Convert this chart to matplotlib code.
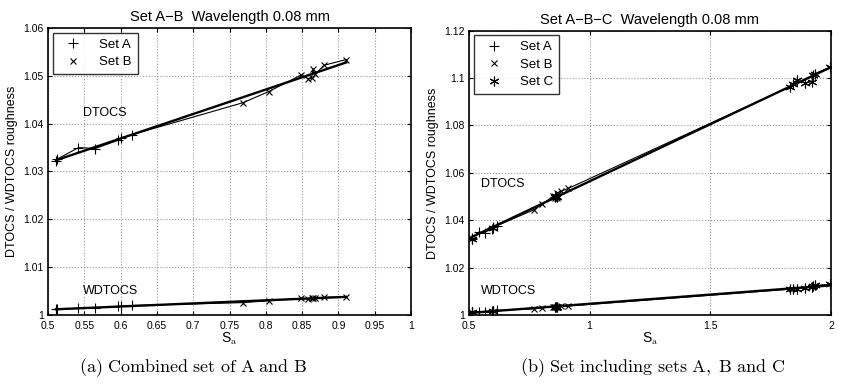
import numpy as np
import matplotlib
matplotlib.use("Agg")
import matplotlib.pyplot as plt
from matplotlib.ticker import FixedLocator, FormatStrFormatter

plt.rcParams['font.family'] = ['Liberation Sans', 'DejaVu Sans']
plt.rcParams['mathtext.fontset'] = 'cm'

# Set A
a_sa = [0.511, 0.513, 0.542, 0.565, 0.596, 0.600, 0.616]
a_dtocs = [1.0321, 1.0326, 1.0350, 1.0348, 1.0365, 1.0370, 1.0377]
a_wdtocs = [1.0012, 1.0012, 1.0014, 1.0015, 1.0018, 1.0019, 1.0020]

# Set B
b_sa = [0.769, 0.804, 0.849, 0.858, 0.863, 0.865, 0.868, 0.880, 0.911]
b_dtocs = [1.0444, 1.0467, 1.0502, 1.0494, 1.0495, 1.0514, 1.0503, 1.0522, 1.0534]
b_wdtocs = [1.0026, 1.0030, 1.0035, 1.0034, 1.0035, 1.0035, 1.0036, 1.0037, 1.0038]

# Set C
c_sa = [0.512, 0.601, 0.855, 0.862, 0.867, 1.830, 1.844, 1.858, 1.893, 1.921, 1.925, 1.934, 1.997]
c_dtocs = [1.0323, 1.0367, 1.0497, 1.0502, 1.0499, 1.0963, 1.0977, 1.0991, 1.0980,
           1.0984, 1.1012, 1.1019, 1.1046]
c_wdtocs = [1.0012, 1.0019, 1.0035, 1.0035, 1.0036, 1.0109, 1.0111, 1.0112, 1.0114,
            1.0120, 1.0122, 1.0125, 1.0130]

STAR = (6, 2, 0)  # matlab style asterisk


def draw_curve(ax, xs, ys, x_lo, x_hi):
    xs = np.asarray(xs)
    ys = np.asarray(ys)
    order = np.argsort(xs)
    ax.plot(xs[order], ys[order], color='black', lw=0.8, zorder=2)
    k, b = np.polyfit(xs, ys, 1)
    xx = np.array([x_lo, x_hi])
    ax.plot(xx, k * xx + b, color='black', lw=1.7, zorder=2)


def style_axes(ax, xlim, ylim, xticks, yticks):
    ax.set_xlim(*xlim)
    ax.set_ylim(*ylim)
    ax.xaxis.set_major_locator(FixedLocator(xticks))
    ax.yaxis.set_major_locator(FixedLocator(yticks))
    ax.xaxis.set_major_formatter(FormatStrFormatter('%g'))
    ax.yaxis.set_major_formatter(FormatStrFormatter('%g'))
    ax.tick_params(direction='in', top=True, right=True, labelsize=7.5, length=3, width=0.8)
    ax.tick_params(axis='x', pad=4)
    ax.tick_params(axis='y', pad=3)
    ax.grid(True, linestyle=':', color='#999999', lw=0.8)
    for s in ax.spines.values():
        s.set_linewidth(1.2)
    ax.set_xlabel('S$_{\\mathrm{a}}$', fontsize=10, labelpad=0)
    ax.set_ylabel('DTOCS / WDTOCS roughness', fontsize=9, labelpad=4)


def add_legend(ax):
    leg = ax.legend(loc='upper left', fontsize=9.5, frameon=True, fancybox=False,
                    edgecolor='black', handlelength=2.2, handletextpad=0.9,
                    borderpad=0.45, borderaxespad=0.35, labelspacing=0.4)
    leg.get_frame().set_linewidth(1.0)


fig = plt.figure(figsize=(8.51, 3.88), dpi=100)
ax1 = fig.add_axes([0.0564, 0.188, 0.4266, 0.740])
ax2 = fig.add_axes([0.551, 0.188, 0.4254, 0.733])

mk = dict(color='black', ls='none', mew=0.8, zorder=3)

# (a) sets A and B
all_sa = a_sa + b_sa
draw_curve(ax1, all_sa, a_dtocs + b_dtocs, min(all_sa), max(all_sa))
draw_curve(ax1, all_sa, a_wdtocs + b_wdtocs, min(all_sa), max(all_sa))
ax1.plot(a_sa, a_dtocs, marker='+', ms=7, label='Set A', **mk)
ax1.plot(b_sa, b_dtocs, marker='x', ms=5, label='Set B', **mk)
ax1.plot(a_sa, a_wdtocs, marker='+', ms=7, **mk)
ax1.plot(b_sa, b_wdtocs, marker='x', ms=5, **mk)
ax1.text(0.548, 1.0423, 'DTOCS', fontsize=9, va='center')
ax1.text(0.548, 1.0051, 'WDTOCS', fontsize=9, va='center')
style_axes(ax1, (0.5, 1.0), (1.0, 1.06), np.arange(0.5, 1.001, 0.05),
           np.arange(1.0, 1.0601, 0.01))
ax1.set_title('Set A\u2212B  Wavelength 0.08 mm', fontsize=10.5, pad=5)
add_legend(ax1)

# (b) sets A, B and C
all_sa2 = a_sa + b_sa + c_sa
draw_curve(ax2, all_sa2, a_dtocs + b_dtocs + c_dtocs, 0.5, 2.0)
draw_curve(ax2, all_sa2, a_wdtocs + b_wdtocs + c_wdtocs, 0.5, 2.0)
ax2.plot(a_sa, a_dtocs, marker='+', ms=7, label='Set A', **mk)
ax2.plot(b_sa, b_dtocs, marker='x', ms=4, label='Set B', **mk)
ax2.plot(c_sa, c_dtocs, marker=STAR, ms=7, label='Set C', **mk)
ax2.plot(a_sa, a_wdtocs, marker='+', ms=7, **mk)
ax2.plot(b_sa, b_wdtocs, marker='x', ms=4, **mk)
ax2.plot(c_sa, c_wdtocs, marker=STAR, ms=7, **mk)
ax2.text(0.551, 1.0551, 'DTOCS', fontsize=9, va='center')
ax2.text(0.551, 1.0101, 'WDTOCS', fontsize=9, va='center')
style_axes(ax2, (0.5, 2.0), (1.0, 1.12), [0.5, 1.0, 1.5, 2.0],
           np.arange(1.0, 1.1201, 0.02))
ax2.set_title('Set A\u2212B\u2212C  Wavelength 0.08 mm', fontsize=10.5, pad=5)
add_legend(ax2)

fig.text(0.227, 0.04, r'$\mathrm{(a)\ Combined\ set\ of\ A\ and\ B}$', fontsize=13, ha='center')
fig.text(0.767, 0.04, r'$\mathrm{(b)\ Set\ including\ sets\ A,\ B\ and\ C}$', fontsize=13, ha='center')

fig.savefig('out.png', dpi=100)
